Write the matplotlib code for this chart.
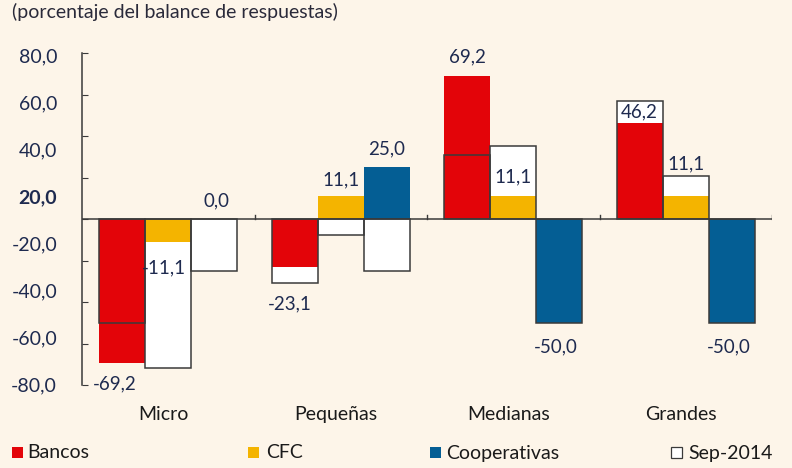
import matplotlib
matplotlib.use("Agg")
import matplotlib.pyplot as plt
from matplotlib.patches import Rectangle
import matplotlib.transforms as mtransforms
import numpy as np

plt.rcParams['font.family'] = ['Lato', 'DejaVu Sans']

categories = ["Micro", "Pequeñas", "Medianas", "Grandes"]
bancos = [-69.2, -23.1, 69.2, 46.2]
cfc = [-11.1, 11.1, 11.1, 11.1]
coop = [0.0, 25.0, -50.0, -50.0]
sep_bancos = [-50.0, -31.0, 31.0, 57.0]
sep_cfc = [-72.0, -7.5, 35.5, 21.0]
sep_coop = [-25.0, -25.0, -50.0, -50.0]
series_names = ["Bancos", "CFC", "Cooperativas", "Sep-2014"]
ytick_labels = ["80,0", "60,0", "40,0", "20,0", "-20,0", "-40,0", "-60,0", "-80,0"]
title = "(porcentaje del balance de respuestas)"

BG = "#fdf5e9"
colors = ["#e30409", "#f4b400", "#045e94"]
EDGE = "#3a3a3a"
TXT = "#1e2a4f"

# label offsets in pixels (series x category)
label_dy = [[-21, -37, 19, 11],
            [-26, 16, 19, 32],
            [18, 18, -24, -24]]
label_dx = [[-7, -5, 0, -1],
            [-4, 0, 0, 0],
            [2, 0, -3, -3]]

fig = plt.figure(figsize=(7.92, 4.68), dpi=100, facecolor=BG)
ax = fig.add_axes([82/792, 1-385/468, 690/792, (385-53.3)/468])
ax.set_facecolor(BG)

x = np.arange(len(categories))
w = 0.8/3
offs = [-w, 0, w]
cur = [bancos, cfc, coop]
sep = [sep_bancos, sep_cfc, sep_coop]

for i in range(3):
    ax.bar(x + offs[i], sep[i], width=w, color="white", edgecolor="none", zorder=1)
    ax.bar(x + offs[i], cur[i], width=w, color=colors[i], edgecolor="none", zorder=2)
    ax.bar(x + offs[i], sep[i], width=w, color="none", edgecolor=EDGE, linewidth=1.1, zorder=3)
    for j in range(len(categories)):
        v = cur[i][j]
        ax.annotate(f"{v:.1f}".replace(".", ","), (x[j] + offs[i], v),
                    xytext=(label_dx[i][j], label_dy[i][j]), textcoords="offset pixels",
                    ha="center", va="center", fontsize=13.5, color=TXT, zorder=5)

ax.set_xlim(-0.5, 3.5)
ax.set_ylim(-80, 80)
ax.axhline(0, color=EDGE, lw=1.1, zorder=4)
for b in [0.5, 1.5, 2.5, 3.5]:
    ax.plot([b, b], [0, 2.2], color=EDGE, lw=1, zorder=4)

for s in ["top", "right", "bottom"]:
    ax.spines[s].set_visible(False)
ax.spines["left"].set_color(EDGE)
ax.spines["left"].set_linewidth(1.1)

# actual tick marks (inward) at multiples of 20, labels evenly spread as in source
ax.set_yticks(np.arange(-80, 81, 20))
ax.tick_params(axis="y", which="major", direction="in", length=4, color=EDGE, labelleft=False)
ax2 = ax.twinx()
ax2.set_ylim(-80, 80)
ax2.set_yticks(np.linspace(79, -79.5, 8))
ax2.set_yticklabels(ytick_labels)
ax2.yaxis.set_ticks_position("left")
ax2.yaxis.set_label_position("left")
ax2.tick_params(axis="y", length=0, pad=18, labelsize=14, labelcolor=TXT)
for lab in ax2.get_yticklabels():
    if lab.get_text() == "20,0":
        lab.set_fontweight("bold")
for s in ax2.spines.values():
    s.set_visible(False)

ax.set_xticks(x)
ax.set_xticklabels(categories)
ax.tick_params(axis="x", length=0, pad=15, labelsize=14, labelcolor="#1a1a1a")
shift = mtransforms.ScaledTranslation(-5/100, 0, fig.dpi_scale_trans)
for lab in ax.get_xticklabels():
    lab.set_transform(lab.get_transform() + shift)

fig.text(12/792, 1-12/468, title, ha="left", va="center", fontsize=14, color="#2a2a3a")

# legend
sq_x = [12, 248, 430, 671]
txt_x = [27, 266, 446, 688]
leg_colors = colors + ["white"]
for sx, tx, c, name in zip(sq_x, txt_x, leg_colors, series_names):
    fig.patches.append(Rectangle((sx/792, 1-458/468), 11/792, 11/468, transform=fig.transFigure,
                                 facecolor=c, edgecolor=EDGE if c == "white" else "none", lw=0.9))
    fig.text(tx/792, 1-453/468, name, ha="left", va="center", fontsize=14, color="#1a1a1a")

fig.savefig("out.png", dpi=100, facecolor=BG)
